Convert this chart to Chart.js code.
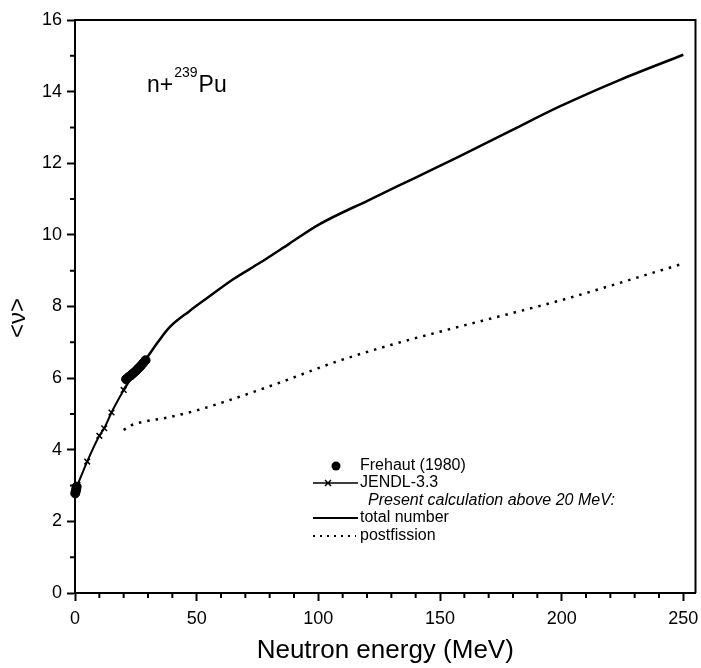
<!DOCTYPE html>
<html>
<head>
<meta charset="utf-8">
<script src="https://cdn.jsdelivr.net/npm/chart.js@4.4.1/dist/chart.umd.min.js"></script>
<style>
  html, body { margin: 0; padding: 0; background: #fff; }
</style>
</head>
<body>
<canvas id="nuChart" width="701" height="668"></canvas>
<script>
// Frehaut (1980) measured points
const frehautE  = [0.1, 0.3, 0.5, 0.7, 21, 22, 23, 24, 25, 26, 27, 28, 29];
const frehautNu = [2.78, 2.84, 2.9, 2.97, 5.97, 6.03, 6.08, 6.14, 6.2, 6.27, 6.34, 6.42, 6.5];

// JENDL-3.3 evaluation (up to 20 MeV)
const jendlE  = [0, 1, 5, 10, 12, 15, 20];
const jendlNu = [2.88, 3.02, 3.67, 4.39, 4.6, 5.04, 5.67];

// present calculation above 20 MeV: total number
const totalE  = [20, 25, 29, 34, 39, 47, 55, 65, 76, 88, 100, 121, 140, 158, 180, 199, 224, 250];
const totalNu = [5.67, 6.2, 6.52, 7.0, 7.43, 7.87, 8.27, 8.76, 9.22, 9.75, 10.28, 10.98, 11.6, 12.19, 12.94, 13.58, 14.33, 15.03];

// present calculation: postfission
const postE  = [20, 23, 28, 38, 50, 61, 84, 107, 130, 153, 177, 200, 250];
const postNu = [4.55, 4.68, 4.78, 4.9, 5.1, 5.33, 5.87, 6.45, 6.93, 7.35, 7.77, 8.18, 9.2];

// axis ticks
const xTicks = [0, 50, 100, 150, 200, 250];
const yTicks = [0, 2, 4, 6, 8, 10, 12, 14, 16];

const toXY = (xs, ys) => xs.map((v, i) => ({ x: v, y: ys[i] }));

const FONT = "'Liberation Sans', Arial, Helvetica, sans-serif";

// frame, minor ticks, label and legend
const decor = {
    id: 'decor',
    afterDraw(chart) {
        const { ctx, chartArea: a } = chart;
        const x = chart.scales.x, y = chart.scales.y;
        ctx.save();
        ctx.strokeStyle = '#000';
        ctx.lineWidth = 2;

        // top and right of the box
        ctx.beginPath();
        ctx.moveTo(a.left, a.top);
        ctx.lineTo(a.right, a.top);
        ctx.lineTo(a.right, a.bottom);
        ctx.stroke();

        // minor ticks
        ctx.beginPath();
        for (let v = 10; v < 255; v += 10) {
            if (v % 50 === 0) continue;
            const px = x.getPixelForValue(v);
            ctx.moveTo(px, a.bottom);
            ctx.lineTo(px, a.bottom + 5);
        }
        for (let v = 1; v < 16; v += 2) {
            const py = y.getPixelForValue(v);
            ctx.moveTo(a.left, py);
            ctx.lineTo(a.left - 5, py);
        }
        ctx.stroke();

        // y axis title
        ctx.fillStyle = '#000';
        ctx.save();
        ctx.translate(18, 318);
        ctx.rotate(-Math.PI / 2);
        ctx.font = '24px ' + FONT;
        ctx.textAlign = 'center';
        ctx.textBaseline = 'middle';
        ctx.fillText('<ν>', 0, 0);
        ctx.restore();

        // n+239Pu
        const lx = x.getPixelForValue(29.6), ly = y.getPixelForValue(14.0);
        ctx.textAlign = 'left';
        ctx.textBaseline = 'alphabetic';
        ctx.font = '23px ' + FONT;
        ctx.fillText('n+', lx, ly);
        let w = ctx.measureText('n+').width;
        ctx.font = '14px ' + FONT;
        ctx.fillText('239', lx + w + 1, ly - 15);
        w += ctx.measureText('239').width + 2;
        ctx.font = '23px ' + FONT;
        ctx.fillText('Pu', lx + w, ly);

        // legend
        ctx.font = '16px ' + FONT;
        ctx.textBaseline = 'middle';
        const tx = 360;
        // Frehaut
        ctx.beginPath();
        ctx.arc(336, 466, 4.5, 0, Math.PI * 2);
        ctx.fill();
        ctx.fillText('Frehaut (1980)', tx, 466);
        // JENDL
        ctx.lineWidth = 1.5;
        ctx.beginPath();
        ctx.moveTo(313, 483); ctx.lineTo(358, 483);
        ctx.moveTo(325, 480); ctx.lineTo(331, 486);
        ctx.moveTo(331, 480); ctx.lineTo(325, 486);
        ctx.stroke();
        ctx.fillText('JENDL-3.3', tx, 483);
        // present calculation
        ctx.font = 'italic 16px ' + FONT;
        ctx.fillText('Present calculation above 20 MeV:', 368, 501);
        ctx.font = '16px ' + FONT;
        // total
        ctx.lineWidth = 2;
        ctx.beginPath();
        ctx.moveTo(313, 518); ctx.lineTo(358, 518);
        ctx.stroke();
        ctx.fillText('total number', tx, 518);
        // postfission
        ctx.setLineDash([2, 5]);
        ctx.beginPath();
        ctx.moveTo(313, 536); ctx.lineTo(356, 536);
        ctx.stroke();
        ctx.setLineDash([]);
        ctx.fillText('postfission', tx, 536);

        ctx.restore();
    }
};

new Chart(document.getElementById('nuChart'), {
    type: 'scatter',
    data: {
        datasets: [
            {
                label: 'postfission',
                data: toXY(postE, postNu),
                showLine: true,
                borderColor: '#000',
                borderWidth: 2.5,
                borderDash: [2.5, 6],
                pointRadius: 0,
                cubicInterpolationMode: 'monotone'
            },
            {
                label: 'total number',
                data: toXY(totalE, totalNu),
                showLine: true,
                borderColor: '#000',
                borderWidth: 2.5,
                pointRadius: 0,
                cubicInterpolationMode: 'monotone'
            },
            {
                label: 'JENDL-3.3',
                data: toXY(jendlE, jendlNu),
                showLine: true,
                borderColor: '#000',
                borderWidth: 2,
                pointStyle: 'crossRot',
                pointRadius: 4,
                pointBorderWidth: 1.5,
                pointBorderColor: '#000',
                cubicInterpolationMode: 'monotone',
                clip: false
            },
            {
                label: 'Frehaut (1980)',
                data: toXY(frehautE, frehautNu),
                showLine: false,
                pointRadius: 4.5,
                pointBackgroundColor: '#000',
                pointBorderColor: '#000',
                clip: false
            }
        ]
    },
    options: {
        responsive: false,
        animation: false,
        layout: { padding: { top: 20, right: 0, left: 0, bottom: 0 } },
        plugins: {
            legend: { display: false },
            tooltip: { enabled: false }
        },
        scales: {
            x: {
                type: 'linear',
                min: 0,
                max: 255,
                afterBuildTicks: s => { s.ticks = xTicks.map(v => ({ value: v })); },
                afterFit: s => { s.height = 75; s.paddingLeft = 0; s.paddingRight = 4; },
                grid: { drawOnChartArea: false, tickLength: 8, tickWidth: 2, tickColor: '#000' },
                border: { color: '#000', width: 2 },
                ticks: { color: '#000', font: { family: FONT, size: 18 }, padding: 7, maxRotation: 0 },
                title: {
                    display: true,
                    text: 'Neutron energy (MeV)',
                    color: '#000',
                    font: { family: FONT, size: 26 },
                    padding: { top: 0, bottom: 2 }
                }
            },
            y: {
                min: 0,
                max: 16,
                afterBuildTicks: s => { s.ticks = yTicks.map(v => ({ value: v })); },
                afterFit: s => { s.width = 75; },
                grid: { drawOnChartArea: false, tickLength: 8, tickWidth: 2, tickColor: '#000' },
                border: { color: '#000', width: 2 },
                ticks: { color: '#000', font: { family: FONT, size: 18 }, padding: 5 }
            }
        }
    },
    plugins: [decor]
});
</script>
</body>
</html>
